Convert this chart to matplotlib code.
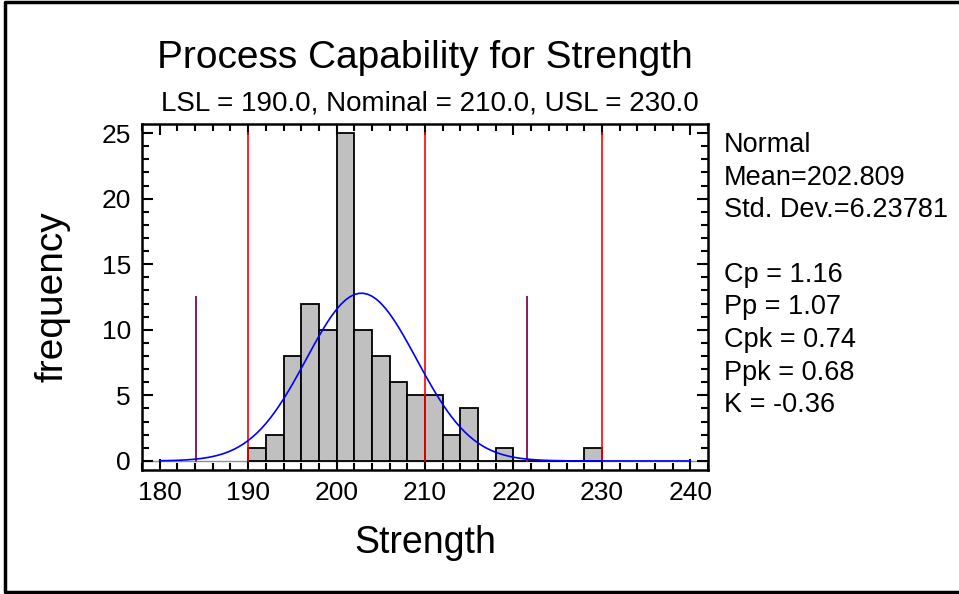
import numpy as np
import matplotlib
matplotlib.use('Agg')
import matplotlib.pyplot as plt
from matplotlib.lines import Line2D
from matplotlib.ticker import MultipleLocator

plt.rcParams['font.family'] = ['Liberation Sans', 'DejaVu Sans']

#histogram data (bin width 2)
bin_left = [190, 192, 194, 196, 198, 200, 202, 204, 206, 208, 210, 212, 214, 216, 218, 220, 222, 224, 226, 228]
counts = [1, 2, 8, 12, 10, 25, 10, 8, 6, 5, 5, 2, 4, 0, 1, 0, 0, 0, 0, 1]
bin_w = 2

#fitted normal
mean = 202.809
sd = 6.23781
n = 100

#spec limits and 3-sigma limits
spec = [190.0, 210.0, 230.0]
sig_lim = [184.1, 221.5]

stats = ['Normal', 'Mean=202.809', 'Std. Dev.=6.23781', '',
         'Cp = 1.16', 'Pp = 1.07', 'Cpk = 0.74', 'Ppk = 0.68', 'K = -0.36']

fig = plt.figure(figsize=(9.59, 5.94), dpi=100)
ax = fig.add_axes([142/959, 1-470/594, (708-142)/959, (470-124)/594])

ax.axhline(0, color='#909090', lw=1.0, zorder=1)
ax.bar(bin_left, counts, width=bin_w, align='edge', color='#c0c0c0',
       edgecolor='black', lw=1.3, zorder=2)

#normal curve scaled to counts
xc = np.linspace(180, 240, 121)
yc = n*bin_w/(sd*np.sqrt(2*np.pi))*np.exp(-0.5*((xc-mean)/sd)**2)
ax.plot(xc, yc, color='blue', lw=1.2, zorder=4)

for s in spec:
    ax.plot([s, s], [0, 25], color='red', lw=1.2, zorder=3)
for s in sig_lim:
    ax.plot([s, s], [0, 12.5], color='#8b1a5a', lw=1.4, zorder=3)

ax.set_xlim(178, 242)
ax.set_ylim(-0.69, 25.69)
ax.xaxis.set_major_locator(MultipleLocator(10))
ax.xaxis.set_minor_locator(MultipleLocator(2))
ax.yaxis.set_major_locator(MultipleLocator(5))
ax.yaxis.set_minor_locator(MultipleLocator(1))
ax.tick_params(which='both', direction='in', top=True, right=True, width=1.5, labelsize=19)
ax.tick_params(which='major', length=8, pad=8)
ax.tick_params(which='minor', length=5)
for sp in ax.spines.values():
    sp.set_linewidth(1.8)

ax.set_xlabel('Strength', fontsize=27, labelpad=14)
ax.set_ylabel('frequency', fontsize=28, labelpad=22)

fig.text(425/959, 1-58/594, 'Process Capability for Strength', fontsize=28,
         ha='center', va='center')
fig.text(430/959, 1-103/594, 'LSL = 190.0, Nominal = 210.0, USL = 230.0', fontsize=20,
         ha='center', va='center')

for i, t in enumerate(stats):
    fig.text(724/959, 1-(145+32.5*i)/594, t, fontsize=19.5, ha='left', va='center')

#figure border (left, top, bottom only)
bx = [1.01, 5/959, 5/959, 1.01]
by = [1-2/594, 1-2/594, 2/594, 2/594]
fig.add_artist(Line2D(bx, by, transform=fig.transFigure, color='black', lw=2.5))

fig.savefig('out.png', dpi=100)
